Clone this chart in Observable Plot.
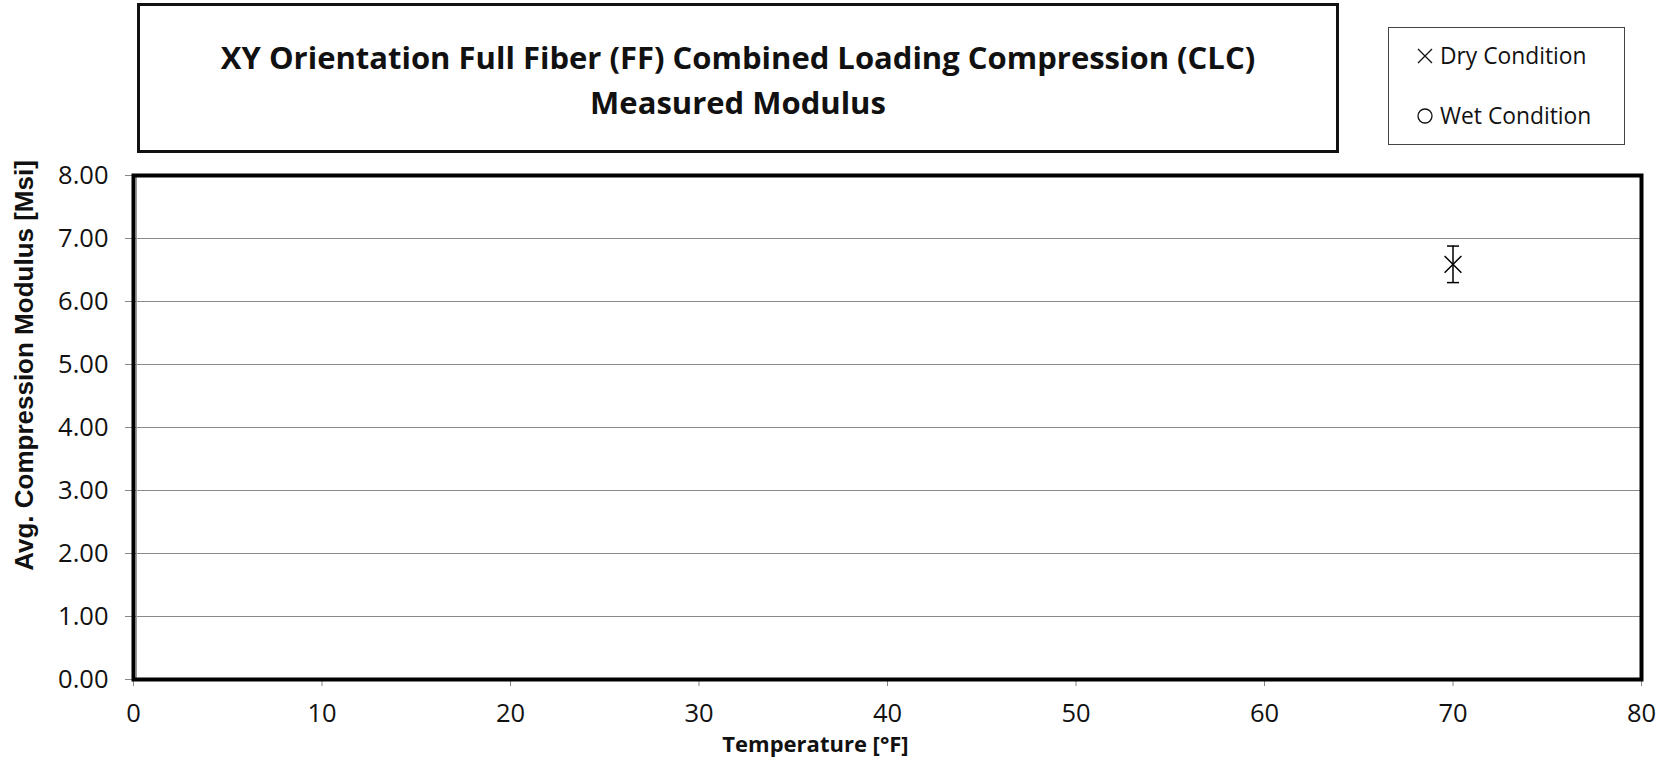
<!DOCTYPE html>
<html>
<head>
<meta charset="utf-8">
<script src="https://cdn.jsdelivr.net/npm/d3@7"></script>
<script src="https://cdn.jsdelivr.net/npm/@observablehq/plot@0.6"></script>
<style>
  html, body { margin: 0; padding: 0; background: white; }
  #wrap { position: relative; width: 1667px; height: 767px; overflow: hidden; }
  #chart { position: absolute; left: 0; top: 0; }
  #title {
    position: absolute; left: 137px; top: 3px; width: 1202px; height: 150px;
    box-sizing: border-box; border: 3px solid #111; background: white;
    display: flex; align-items: center; justify-content: center; text-align: center;
    font-family: "Open Sans", sans-serif; font-weight: bold; font-size: 31px; line-height: 45px; color: #111;
    padding-top: 4px;
  }
  #legend {
    position: absolute; left: 1388px; top: 27px; width: 237px; height: 118px;
    box-sizing: border-box; border: 1px solid #444; background: white;
    font-family: "Open Sans", sans-serif; font-size: 22.8px; color: #111;
  }
  .lrow { position: absolute; left: 28px; height: 30px; line-height: 30px; white-space: nowrap; display: flex; align-items: center; }
  .lsym { display: inline-block; width: 23px; height: 16px; }
</style>
</head>
<body>
<div id="wrap">
  <div id="chart"></div>
  <div id="title"><div>XY Orientation Full Fiber (FF) Combined Loading Compression (CLC)<br>Measured Modulus</div></div>
  <div id="legend"></div>
</div>
<script>
// ---- data ----
const seriesNames = ["Dry Condition", "Wet Condition"];
const seriesSymbols = ["times", "circle"];
const dryTemps = [70];
const dryModulus = [6.59];
const dryError = [0.29];
const wetTemps = [];
const wetModulus = [];
const wetError = [];
const xTicks = [0, 10, 20, 30, 40, 50, 60, 70, 80];
const yTicks = [0, 1, 2, 3, 4, 5, 6, 7, 8];
const xLabel = "Temperature [°F]";
const yLabel = "Avg. Compression Modulus [Msi]";

const dry = dryTemps.map((t, i) => ({t, v: dryModulus[i], e: dryError[i]}));
const wet = wetTemps.map((t, i) => ({t, v: wetModulus[i], e: wetError[i]}));

const capSymbol = {
  draw(context, size) {
    const w = Math.sqrt(size / Math.PI);
    context.moveTo(-w, 0);
    context.lineTo(w, 0);
  }
};

const chart = Plot.plot({
  width: 1667,
  height: 767,
  marginLeft: 133,
  marginRight: 26,
  marginTop: 175,
  marginBottom: 88,
  x: {domain: [0, 80]},
  y: {domain: [0, 8]},
  style: {fontFamily: "'Open Sans', sans-serif", background: "white", color: "#111"},
  marks: [
    Plot.gridY(yTicks, {stroke: "#8a8a8a", strokeOpacity: 1, strokeWidth: 1}),
    Plot.axisY(yTicks, {tickFormat: d3.format(".2f"), tickSize: 8, tickPadding: 17, stroke: "#888", fontSize: 25.5, label: null}),
    Plot.axisX(xTicks, {tickFormat: d3.format("d"), tickSize: 7, tickPadding: 17, stroke: "#888", fontSize: 25.5, label: null}),
    Plot.ruleX([0], {stroke: "#999", strokeWidth: 1, dx: 3}),
    Plot.frame({stroke: "#000", strokeWidth: 4}),
    Plot.ruleX(dry, {x: "t", y1: d => d.v - d.e, y2: d => d.v + d.e, stroke: "#000", strokeWidth: 1.5}),
    Plot.dot(dry, {x: "t", y: d => d.v - d.e, symbol: capSymbol, r: 6, stroke: "#000", strokeWidth: 1.5}),
    Plot.dot(dry, {x: "t", y: d => d.v + d.e, symbol: capSymbol, r: 6, stroke: "#000", strokeWidth: 1.5}),
    Plot.dot(dry, {x: "t", y: "v", symbol: "times", r: 7.7, stroke: "#000", strokeWidth: 1.5}),
    Plot.dot(wet, {x: "t", y: "v", symbol: "circle", r: 7, stroke: "#000", strokeWidth: 1.5, fill: "none"}),
    Plot.text([yLabel], {frameAnchor: "left", textAnchor: "middle", text: d => d, rotate: -90, dx: -109, dy: -62,
      fontFamily: "'Liberation Sans', Arial, sans-serif", fontWeight: "bold", fontSize: 26, fill: "#111"}),
    Plot.text([xLabel], {frameAnchor: "bottom", text: d => d, dx: -72, dy: 72,
      fontFamily: "'Open Sans', sans-serif", fontWeight: "bold", fontSize: 22, fill: "#111"})
  ]
});
document.getElementById("chart").appendChild(chart);

const symbolSvg = {
  times: `<svg class="lsym" viewBox="-8 -8 23 16"><path d="M-7,-7L7,7M-7,7L7,-7" stroke="#111" stroke-width="1.3" fill="none"/></svg>`,
  circle: `<svg class="lsym" viewBox="-8 -8 23 16"><circle r="7" stroke="#111" stroke-width="1.3" fill="none"/></svg>`
};
const legend = document.getElementById("legend");
seriesNames.forEach((name, i) => {
  const row = document.createElement("div");
  row.className = "lrow";
  row.style.top = (13 + i * 60) + "px";
  row.innerHTML = `${symbolSvg[seriesSymbols[i]]}<span>${name}</span>`;
  legend.appendChild(row);
});
</script>
</body>
</html>
